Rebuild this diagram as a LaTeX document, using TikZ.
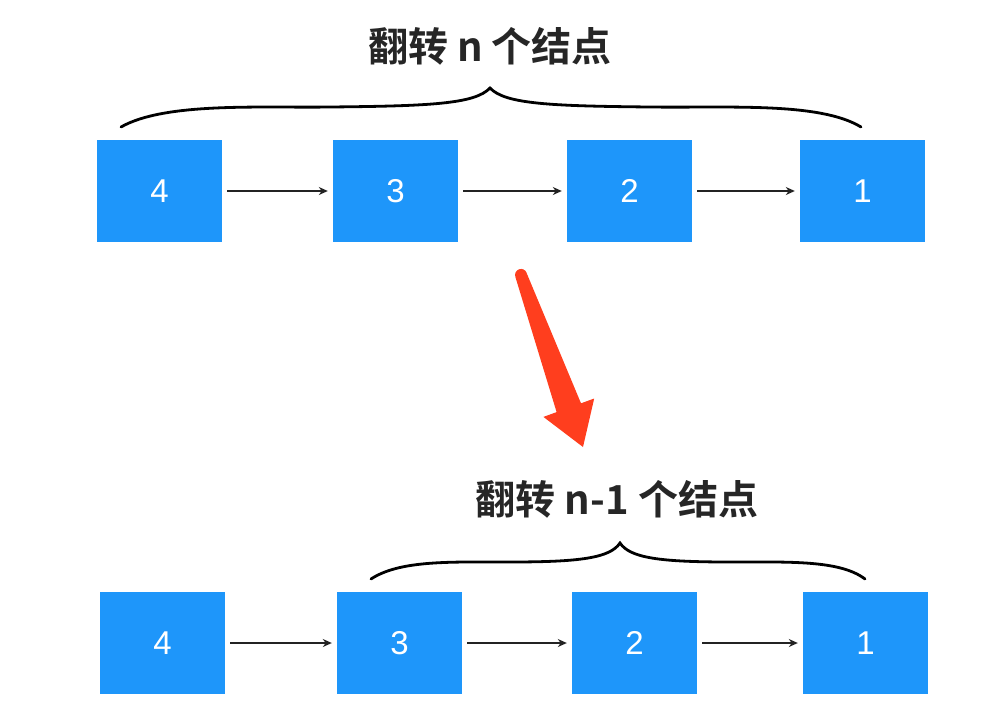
\documentclass[tikz,border=0pt]{standalone}
\usepackage{fontspec}
\setmainfont{Liberation Sans}
\newfontfamily\cjk{Noto Sans CJK SC}[BoldFont={* Bold}]
\usetikzlibrary{arrows.meta,calc}
\definecolor{boxblue}{RGB}{30,150,250}
\definecolor{arrred}{RGB}{255,62,30}
\definecolor{lnk}{RGB}{35,35,35}
\tikzset{
  nodebox/.style={fill=boxblue,minimum width=125pt,minimum height=102pt,inner sep=0pt,text=white,font=\fontsize{33}{33}\selectfont},
  link/.style={draw=lnk,line width=1.3pt,-{Stealth[length=9pt,width=8pt]},shorten <=5pt,shorten >=5pt},
  brace/.style={draw=black,line width=2.8pt,line cap=round},
  title/.style={font=\cjk\bfseries\fontsize{40}{40}\selectfont,text=black!85}
}
\begin{document}
\begin{tikzpicture}[x=1pt,y=-1pt]
\useasboundingbox (0,0) rectangle (1007,726);
% top row
\node[nodebox] (t4) at (159.5,191) {4};
\node[nodebox] (t3) at (395.5,191) {3};
\node[nodebox] (t2) at (629.5,191) {2};
\node[nodebox] (t1) at (862.5,191) {1};
\draw[link] (t4) -- (t3);
\draw[link] (t3) -- (t2);
\draw[link] (t2) -- (t1);
\node[title] (ttop) at (490,46) {翻转 n 个结点};
\coordinate (tbl) at (121,127);
\coordinate (tbm) at (490,88);
\coordinate (tbr) at (861,127);
\draw[brace] (tbl) .. controls (165,102) and (260,108) .. (330,107)
  .. controls (430,106) and (475,104) .. (tbm)
  .. controls (505,104) and (550,106) .. (650,107)
  .. controls (730,108) and (820,102) .. (tbr);
% red arrow
\fill[arrred,line join=round] (526.6,273) -- (581,403.3) -- (594.2,398.5) -- (583,447)
  -- (543.4,416.9) -- (556.6,412.1) -- (515.4,277) arc[start angle=200,end angle=20,radius=6pt] -- cycle;
% bottom row
\node[nodebox] (b4) at (162.5,643) {4};
\node[nodebox] (b3) at (399.5,643) {3};
\node[nodebox] (b2) at (634.5,643) {2};
\node[nodebox] (b1) at (865.5,643) {1};
\draw[link] (b4) -- (b3);
\draw[link] (b3) -- (b2);
\draw[link] (b2) -- (b1);
\node[title] (tbot) at (617,499) {翻转 n-1 个结点};
\coordinate (bbl) at (371,579);
\coordinate (bbm) at (620,543);
\coordinate (bbr) at (865,579);
\draw[brace] (bbl) .. controls (400,560) and (450,562) .. (510,562)
  .. controls (580,562) and (610,558) .. (bbm)
  .. controls (630,558) and (660,562) .. (730,562)
  .. controls (790,562) and (840,560) .. (bbr);
\end{tikzpicture}
\end{document}
